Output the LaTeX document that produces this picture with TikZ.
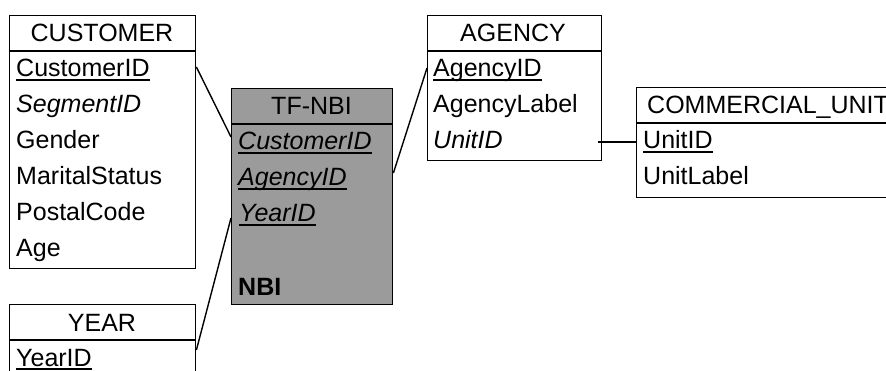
\documentclass[tikz,border=0pt]{standalone}
\usepackage{fontspec}
\setmainfont{Liberation Sans}
\usetikzlibrary{calc}
\definecolor{factgray}{RGB}{155,155,155}
\begin{document}
\begin{tikzpicture}[x=1pt,y=-1pt,
  font=\fontsize{25}{30}\selectfont,
  tbl/.style={draw, line width=1.4pt, inner sep=0pt, anchor=north west},
  sepline/.style={line width=1.4pt},
  hdr/.style={anchor=base, inner sep=0pt},
  fld/.style={anchor=base west, inner sep=0pt},
  keyline/.style={line width=1.3pt},
  rel/.style={line width=1.4pt}]
\useasboundingbox (0,0) rectangle (886,371);
\clip (0,0) rectangle (886,371);

% CUSTOMER
\node[tbl, minimum width=186pt, minimum height=253pt] (customer) at (9,15) {};
\draw[sepline] ($(customer.north west)+(0,36)$) -- ($(customer.north east)+(0,36)$);
\node[hdr] (customerH) at (102,42) {CUSTOMER};
\node[fld] (c1) at (16,77) {CustomerID};
\node[fld] (c2) at (16,113) {\itshape SegmentID};
\node[fld] (c3) at (16,149) {Gender};
\node[fld] (c4) at (16,185) {MaritalStatus};
\node[fld] (c5) at (16,221) {PostalCode};
\node[fld] (c6) at (16,257) {Age};

% YEAR
\node[tbl, minimum width=186pt, minimum height=120pt] (year) at (9,304) {};
\draw[sepline] ($(year.north west)+(0,36)$) -- ($(year.north east)+(0,36)$);
\node[hdr] (yearH) at (102,331) {YEAR};
\node[fld] (y1) at (16,366) {YearID};

% TF-NBI
\node[tbl, fill=factgray, minimum width=161pt, minimum height=216pt] (tf) at (231,88) {};
\draw[sepline] ($(tf.north west)+(0,36)$) -- ($(tf.north east)+(0,36)$);
\node[hdr] (tfH) at (311.5,115) {TF-NBI};
\node[fld] (t1) at (238,150) {\itshape CustomerID};
\node[fld] (t2) at (238,186) {\itshape AgencyID};
\node[fld] (t3) at (239,222) {\itshape YearID};
\node[fld] (t5) at (238,295) {\bfseries NBI};

% AGENCY
\node[tbl, minimum width=174pt, minimum height=145pt] (agency) at (427,15) {};
\draw[sepline] ($(agency.north west)+(0,36)$) -- ($(agency.north east)+(0,36)$);
\node[hdr] (agencyH) at (513,42) {AGENCY};
\node[fld] (a1) at (433,77) {AgencyID};
\node[fld] (a2) at (433,113) {AgencyLabel};
\node[fld] (a3) at (433,149) {\itshape UnitID};

% COMMERCIAL_UNIT
\node[tbl, minimum width=300pt, minimum height=110pt] (cu) at (636,87) {};
\draw[sepline] ($(cu.north west)+(0,36)$) -- ($(cu.north east)+(0,36)$);
\node[fld] (cuH) at (647,114) {COMMERCIAL\_UNIT};
\node[fld] (u1) at (643,149) {UnitID};
\node[fld] (u2) at (643,185) {UnitLabel};

% key underlines
\foreach \n in {c1,y1,t1,t2,t3,a1,u1}
  \draw[keyline] ($(\n.base west)+(0,3)$) -- ($(\n.base east)+(0,3)$);

% relationships
\draw[rel] ($(customer.east |- c1.base)+(0,-10)$) -- ($(tf.west |- t1.base)+(0,-13)$);
\draw[rel] ($(year.east |- y1.base)+(0,-16)$) -- ($(tf.west |- t3.base)+(0,-4)$);
\draw[rel] ($(tf.east |- t2.base)+(0,-13)$) -- ($(agency.west |- a1.base)+(0,-9)$);
\draw[rel] ($(agency.east |- a3.base)+(-4,-7)$) -- ($(cu.west |- u1.base)+(0,-7)$);
\end{tikzpicture}
\end{document}
